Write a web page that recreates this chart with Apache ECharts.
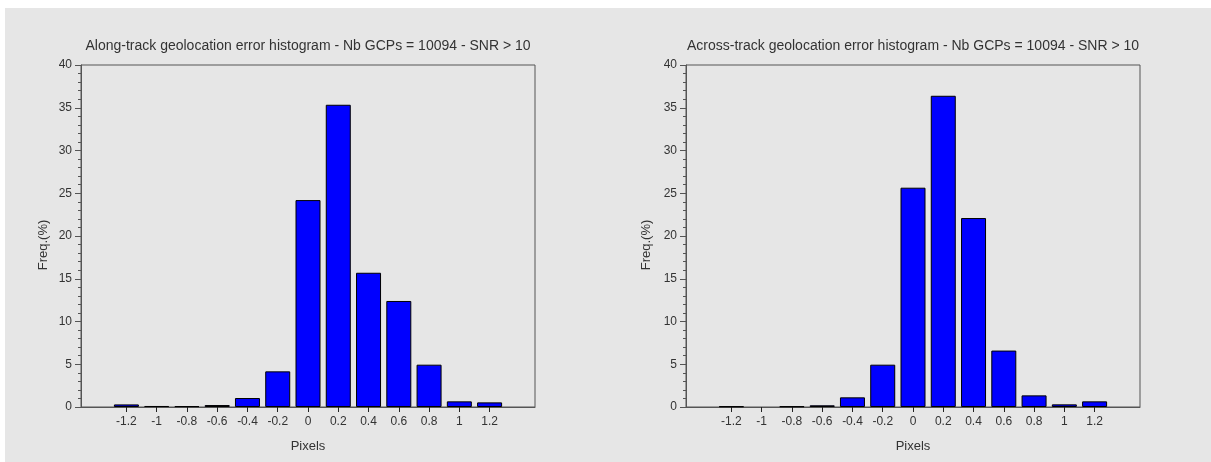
<!DOCTYPE html>
<html>
<head>
<meta charset="utf-8">
<script src="https://cdn.jsdelivr.net/npm/echarts@6/dist/echarts.min.js"></script>
<style>
html,body{margin:0;padding:0;background:#fff;}
#chart{width:1211px;height:462px;}
</style>
</head>
<body>
<div id="chart"></div>
<script>
// ---- data ----
var binCenters = [-1.2, -1, -0.8, -0.6, -0.4, -0.2, 0, 0.2, 0.4, 0.6, 0.8, 1, 1.2];
var alongFreq  = [0.3, 0.12, 0.1, 0.23, 1.05, 4.17, 24.2, 35.35, 15.7, 12.4, 4.95, 0.66, 0.54];
var acrossFreq = [0.08, 0, 0.08, 0.2, 1.13, 4.95, 25.65, 36.4, 22.1, 6.6, 1.36, 0.31, 0.66];
var xTickValues = [-1.2, -1, -0.8, -0.6, -0.4, -0.2, 0, 0.2, 0.4, 0.6, 0.8, 1, 1.2];
var titles = [
  'Along-track geolocation error histogram - Nb GCPs = 10094 - SNR > 10',
  'Across-track geolocation error histogram - Nb GCPs = 10094 - SNR > 10'
];
var xName = 'Pixels';
var yName = 'Freq.(%)';

// ---- chart ----
var FONT = '"Liberation Sans", Arial, sans-serif';
var TXT = '#333333';
var AX = '#555555';
var grids = [
  {left: 81, right: 676, top: 65, bottom: 55},
  {left: 686, right: 71, top: 65, bottom: 55}
];
function pairs(vals) {
  var out = [];
  binCenters.forEach(function (c, i) { if (vals[i] > 0) out.push([c, vals[i]]); });
  return out;
}
function fmt(v) { return String(Math.round(v * 10) / 10); }

var chart = echarts.init(document.getElementById('chart'), null, {renderer: 'canvas'});
var xAxes = [], yAxes = [], series = [], titleOpts = [];
[alongFreq, acrossFreq].forEach(function (vals, k) {
  var g = grids[k];
  titleOpts.push({
    text: titles[k],
    left: g.left + (1211 - g.left - g.right) / 2,
    top: 39,
    padding: 0,
    textAlign: 'center',
    textStyle: {fontFamily: FONT, fontSize: 14, fontWeight: 'normal', color: TXT}
  });
  xAxes.push({
    type: 'value', gridIndex: k, min: -1.5, max: 1.5,
    name: xName, nameLocation: 'middle', nameGap: 33,
    nameTextStyle: {fontFamily: FONT, fontSize: 13, color: TXT},
    axisLine: {show: true, onZero: false, lineStyle: {color: AX, width: 1}},
    axisTick: {show: true, length: 5, customValues: xTickValues, lineStyle: {color: '#222'}},
    axisLabel: {show: true, customValues: xTickValues, margin: 9, formatter: fmt,
      fontFamily: FONT, fontSize: 12, color: TXT},
    splitLine: {show: false}
  });
  yAxes.push({
    type: 'value', gridIndex: k, min: 0, max: 40, interval: 5,
    name: yName, nameLocation: 'middle', nameGap: k === 0 ? 31 : 33,
    nameTextStyle: {fontFamily: FONT, fontSize: 13, color: TXT, padding: [0, 18, 0, 0]},
    axisLine: {show: true, onZero: false, lineStyle: {color: AX, width: 1}},
    axisTick: {show: true, length: 6, lineStyle: {color: AX}},
    minorTick: {show: true, splitNumber: 5, length: 3, lineStyle: {color: AX}},
    axisLabel: {margin: 9, fontFamily: FONT, fontSize: 12, color: TXT},
    splitLine: {show: false}
  });
  series.push({
    type: 'bar', xAxisIndex: k, yAxisIndex: k,
    data: pairs(vals), barWidth: 25, silent: true,
    itemStyle: {color: '#0000ff', borderColor: '#000000', borderWidth: 1}
  });
});

chart.setOption({
  animation: false,
  backgroundColor: '#ffffff',
  graphic: [{
    type: 'rect', z: -100, silent: true,
    shape: {x: 5, y: 8, width: 1206, height: 454},
    style: {fill: '#e6e6e6'}
  }],
  title: titleOpts,
  grid: grids.map(function (g) {
    return {left: g.left, right: g.right, top: g.top, bottom: g.bottom,
      show: true, borderColor: AX, borderWidth: 1, backgroundColor: 'transparent'};
  }),
  xAxis: xAxes,
  yAxis: yAxes,
  series: series
});
</script>
</body>
</html>
